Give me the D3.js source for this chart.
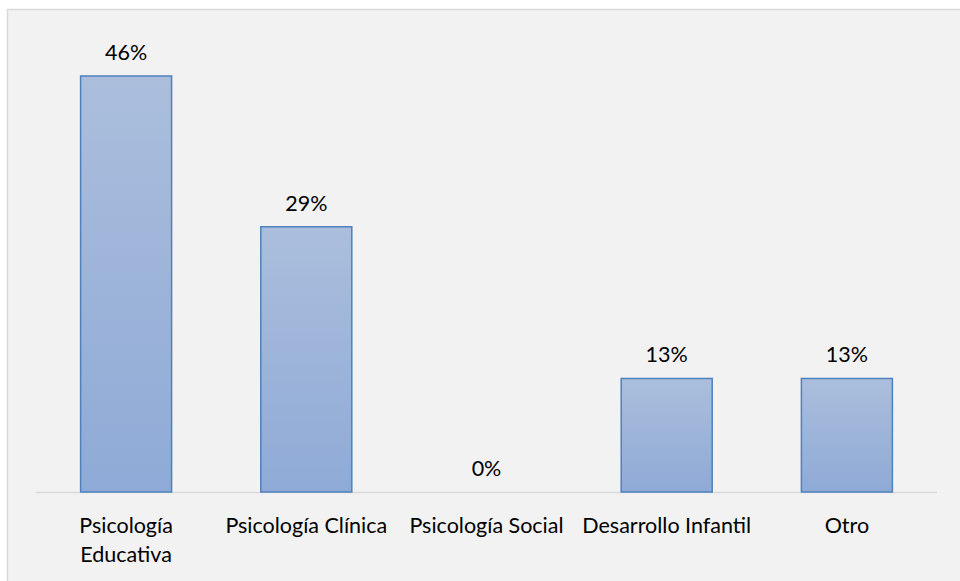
<!DOCTYPE html>
<html>
<head>
<meta charset="utf-8">
<script src="https://cdn.jsdelivr.net/npm/d3@7"></script>
<style>
  html, body { margin: 0; padding: 0; background: #ffffff; }
  svg { display: block; }
</style>
</head>
<body>
<svg id="chart" width="960" height="581"></svg>
<script>
const categories = ["Psicología Educativa", "Psicología Clínica", "Psicología Social", "Desarrollo Infantil", "Otro"];
const categoryLines = [["Psicología", "Educativa"], ["Psicología Clínica"], ["Psicología Social"], ["Desarrollo Infantil"], ["Otro"]];
const values = [45.8, 29.2, 0, 12.5, 12.5];
const valueLabels = ["46%", "29%", "0%", "13%", "13%"];

const W = 960, H = 581;
const svg = d3.select("#chart");
const font = "Lato, 'Open Sans', sans-serif";
const fs = 21.5;

// chart area background
svg.append("rect")
  .attr("x", 7.5).attr("y", 9.5)
  .attr("width", W + 10).attr("height", H + 10)
  .attr("fill", "#f2f2f2")
  .attr("stroke", "#d9d9d9").attr("stroke-width", 1.5);

const defs = svg.append("defs");
const grad = defs.append("linearGradient")
  .attr("id", "barGrad").attr("x1", 0).attr("y1", 0).attr("x2", 0).attr("y2", 1);
grad.append("stop").attr("offset", "0%").attr("stop-color", "#abbedc");
grad.append("stop").attr("offset", "100%").attr("stop-color", "#8eaad6");

const baseline = 492;
const x = d3.scaleBand().domain(categories).range([36, 937]).padding(0);
const y = d3.scaleLinear().domain([0, 45.8]).range([baseline, 76]);
const barW = x.bandwidth() * 0.505;

// axis line
svg.append("line")
  .attr("x1", x.range()[0]).attr("x2", x.range()[1])
  .attr("y1", baseline + 0.5).attr("y2", baseline + 0.5)
  .attr("stroke", "#d9d9d9").attr("stroke-width", 1.5);

const data = categories.map((c, i) => ({ c, v: values[i], label: valueLabels[i], lines: categoryLines[i] }));

svg.selectAll("rect.bar")
  .data(data.filter(d => d.v > 0))
  .enter().append("rect")
  .attr("class", "bar")
  .attr("x", d => x(d.c) + x.bandwidth() / 2 - barW / 2)
  .attr("y", d => y(d.v))
  .attr("width", barW)
  .attr("height", d => baseline - y(d.v))
  .attr("fill", "url(#barGrad)")
  .attr("stroke", "#4f81bd").attr("stroke-width", 1.5);

svg.selectAll("text.val")
  .data(data)
  .enter().append("text")
  .attr("class", "val")
  .attr("x", d => x(d.c) + x.bandwidth() / 2)
  .attr("y", d => y(d.v) - 16)
  .attr("text-anchor", "middle")
  .attr("font-family", font)
  .attr("font-size", fs)
  .attr("fill", "#000")
  .text(d => d.label);

const cl = svg.selectAll("text.cat")
  .data(data)
  .enter().append("text")
  .attr("class", "cat")
  .attr("x", d => x(d.c) + x.bandwidth() / 2)
  .attr("y", 533)
  .attr("text-anchor", "middle")
  .attr("font-family", font)
  .attr("font-size", fs)
  .attr("fill", "#000");
cl.selectAll("tspan")
  .data(d => d.lines.map(l => ({ l, x: x(d.c) + x.bandwidth() / 2 })))
  .enter().append("tspan")
  .attr("x", t => t.x)
  .attr("dy", (t, i) => i === 0 ? 0 : 29)
  .text(t => t.l);
</script>
</body>
</html>
